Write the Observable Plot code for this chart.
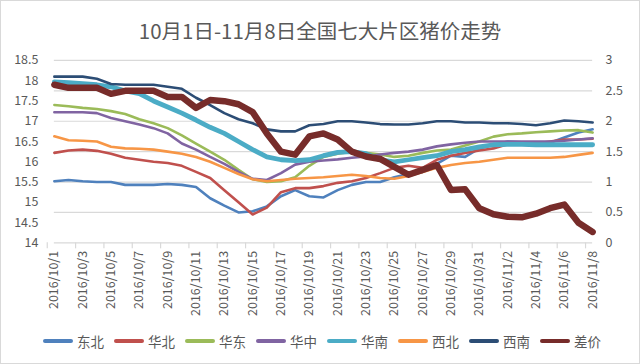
<!DOCTYPE html>
<html>
<head>
<meta charset="utf-8">
<script src="https://cdn.jsdelivr.net/npm/d3@7"></script>
<script src="https://cdn.jsdelivr.net/npm/@observablehq/plot@0.6"></script>
<style>
  html, body { margin: 0; padding: 0; background: #fff; }
  #chart { position: relative; width: 640px; height: 364px; box-sizing: border-box; border: 1px solid #d9d9d9; overflow: hidden; font-family: "Noto Sans CJK SC", "Noto Sans", sans-serif; color: #595959; }
  #title { position: absolute; top: 15px; left: 0; width: 100%; text-align: center; font-size: 20.5px; line-height: 28px; color: #595959; }
  #plot { position: absolute; top: 39px; left: -1px; }
  #legend { position: absolute; top: 330px; left: 42px; height: 20px; display: flex; }
  .item { width: 71px; display: flex; align-items: center; font-size: 13.5px; color: #595959; }
  .sw { width: 30px; height: 4px; border-radius: 2px; margin-right: 4px; }
</style>
</head>
<body>
<div id="chart">
  <div id="title">10月1日-11月8日全国七大片区猪价走势</div>
  <div id="plot"></div>
  <div id="legend"></div>
</div>
<script>
const dateLabels = ["2016/10/1","2016/10/2","2016/10/3","2016/10/4","2016/10/5","2016/10/6","2016/10/7","2016/10/8","2016/10/9","2016/10/10",
  "2016/10/11","2016/10/12","2016/10/13","2016/10/14","2016/10/15","2016/10/16","2016/10/17","2016/10/18","2016/10/19","2016/10/20",
  "2016/10/21","2016/10/22","2016/10/23","2016/10/24","2016/10/25","2016/10/26","2016/10/27","2016/10/28","2016/10/29","2016/10/30",
  "2016/10/31","2016/11/1","2016/11/2","2016/11/3","2016/11/4","2016/11/5","2016/11/6","2016/11/7","2016/11/8"];

const seriesNames = ["东北","华北","华东","华中","华南","西北","西南","差价"];
const seriesColors = ["#4F81BD","#C0504D","#9BBB59","#8064A2","#4BACC6","#F79646","#2C4D75","#772C2A"];
const seriesWidths = [2.6, 2.6, 2.6, 2.6, 4.8, 2.6, 2.6, 6.5];

const dongbei = [15.52,15.55,15.52,15.5,15.5,15.43,15.43,15.43,15.45,15.43,15.38,15.1,14.92,14.75,14.78,14.9,15.15,15.3,15.15,15.12,15.3,15.43,15.5,15.5,15.62,15.7,15.75,15.95,16.15,16.12,16.33,16.42,16.5,16.48,16.47,16.47,16.6,16.72,16.8];
const huabei = [16.22,16.28,16.3,16.27,16.2,16.1,16.05,16.0,15.97,15.9,15.75,15.6,15.3,15.0,14.7,14.87,15.25,15.35,15.35,15.4,15.48,15.52,15.6,15.72,15.85,15.9,15.85,16.05,16.15,16.22,16.28,16.33,16.43,16.45,16.45,16.5,16.55,16.55,16.57];
const huadong = [17.4,17.37,17.33,17.3,17.25,17.18,17.05,16.95,16.83,16.65,16.45,16.25,16.05,15.8,15.57,15.5,15.52,15.62,15.9,16.12,16.2,16.25,16.22,16.18,16.12,16.15,16.22,16.28,16.3,16.4,16.5,16.62,16.68,16.7,16.73,16.75,16.77,16.78,16.72];
const huazhong = [17.22,17.22,17.22,17.2,17.08,17.0,16.92,16.83,16.7,16.45,16.3,16.12,15.95,15.75,15.58,15.55,15.72,15.93,16.0,16.03,16.06,16.1,16.13,16.18,16.22,16.25,16.3,16.38,16.43,16.47,16.5,16.5,16.5,16.5,16.5,16.5,16.52,16.55,16.58];
const huanan = [17.97,17.95,17.93,17.9,17.85,17.75,17.68,17.5,17.35,17.2,17.03,16.85,16.7,16.5,16.3,16.12,16.05,16.03,16.05,16.15,16.23,16.25,16.2,16.05,16.0,16.05,16.1,16.15,16.25,16.3,16.37,16.42,16.43,16.43,16.42,16.42,16.42,16.42,16.42];
const xibei = [16.63,16.53,16.52,16.5,16.37,16.33,16.32,16.3,16.25,16.2,16.12,16.0,15.85,15.7,15.57,15.52,15.55,15.58,15.6,15.62,15.65,15.68,15.65,15.6,15.58,15.65,15.75,15.85,15.92,15.97,16.0,16.05,16.1,16.1,16.1,16.1,16.12,16.17,16.22];
const xinan = [18.1,18.1,18.1,18.05,17.92,17.9,17.9,17.9,17.85,17.8,17.58,17.4,17.2,17.05,16.95,16.8,16.75,16.75,16.9,16.93,17.0,17.0,16.97,16.93,16.92,16.92,16.95,17.0,17.0,16.97,16.97,16.95,16.95,16.93,16.9,16.95,17.02,17.0,16.97];
const chajia = [2.6,2.55,2.55,2.55,2.45,2.5,2.5,2.5,2.4,2.4,2.22,2.35,2.33,2.28,2.15,1.8,1.5,1.45,1.75,1.8,1.7,1.5,1.42,1.38,1.25,1.12,1.2,1.28,0.87,0.88,0.57,0.47,0.43,0.42,0.48,0.57,0.63,0.33,0.18];

const leftTicks = [14,14.5,15,15.5,16,16.5,17,17.5,18,18.5];
const rightTicks = [0,0.5,1,1.5,2,2.5,3];

// right axis (0..3) mapped onto left axis (14..18.5)
const leftMin = 14, leftMax = 18.5, rightMax = 3;
const toLeft = r => leftMin + r * (leftMax - leftMin) / rightMax;

const parse = d3.utcParse("%Y/%m/%d");
const dates = dateLabels.map(parse);
const allSeries = [dongbei, huabei, huadong, huazhong, huanan, xibei, xinan, chajia];

const rows = [];
allSeries.forEach((vals, s) => {
  vals.forEach((v, i) => rows.push({date: dates[i], value: s === 7 ? toLeft(v) : v, series: seriesNames[s]}));
});

const labelDates = dates.filter((d, i) => i % 2 === 0);
const tickMarkDates = labelDates.map(d => new Date(+d - 12 * 3600 * 1000));

const fmt = d3.utcFormat("%Y/%-m/%-d");

const lines = seriesNames.map((name, s) => Plot.line(rows.filter(r => r.series === name), {
  x: "date", y: "value", stroke: seriesColors[s], strokeWidth: seriesWidths[s],
  strokeLinejoin: "round", strokeLinecap: "round"
}));

const chart = Plot.plot({
  width: 641,
  height: 291,
  marginTop: 20,
  marginBottom: 88,
  marginLeft: 54,
  marginRight: 47,
  style: {fontFamily: "'Noto Sans CJK SC', 'Noto Sans', sans-serif", fontSize: "12px", color: "#595959", background: "#fff"},
  x: {type: "utc", domain: [dates[0], dates[dates.length - 1]]},
  y: {domain: [leftMin, leftMax]},
  marks: [
    Plot.gridY(rightTicks.map(toLeft), {stroke: "#d9d9d9", strokeOpacity: 1, strokeWidth: 1.2}),
    Plot.axisX(tickMarkDates, {tickSize: 6, tickFormat: () => "", stroke: "#d9d9d9", strokeWidth: 1.2, label: null}),
    Plot.axisX(labelDates, {tickSize: 0, tickPadding: 8, tickRotate: -90, tickFormat: fmt, fill: "#595959", fontSize: 12.5, label: null}),
    Plot.axisY(leftTicks, {anchor: "left", tickSize: 0, tickPadding: 16, tickFormat: d => String(d), fill: "#595959", fontSize: 12.5, label: null}),
    Plot.axisY(rightTicks.map(toLeft), {anchor: "right", tickSize: 0, tickPadding: 13, tickFormat: d => String(+((d - leftMin) * rightMax / (leftMax - leftMin)).toFixed(2)), fill: "#595959", fontSize: 12.5, label: null}),
    ...lines
  ]
});
document.getElementById("plot").appendChild(chart);

const legend = document.getElementById("legend");
seriesNames.forEach((name, s) => {
  const item = document.createElement("div");
  item.className = "item";
  const sw = document.createElement("div");
  sw.className = "sw";
  sw.style.background = seriesColors[s];
  const t = document.createElement("span");
  t.textContent = name;
  item.appendChild(sw);
  item.appendChild(t);
  legend.appendChild(item);
});
</script>
</body>
</html>
